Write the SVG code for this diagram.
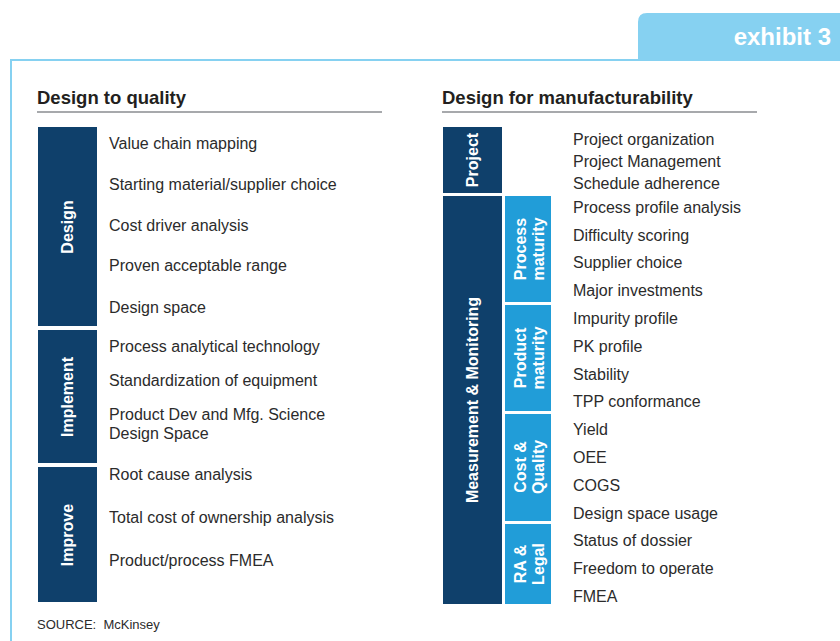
<svg xmlns="http://www.w3.org/2000/svg" width="840" height="641" viewBox="0 0 840 641">
  <style>
    .bg { fill: #ffffff; }
    .frame { fill: none; stroke: #86D1F1; stroke-width: 2; }
    .tab { fill: #86D1F1; }
    .tabtext { font-family: "Liberation Sans", Arial, sans-serif; font-weight: bold; font-size: 24px; fill: #ffffff; }
    .title { font-family: "Liberation Sans", Arial, sans-serif; font-weight: bold; font-size: 18.5px; fill: #231F20; }
    .rule { stroke: #A7A9AC; stroke-width: 2; }
    .dark { fill: #0F406B; }
    .light { fill: #219DD8; }
    .vlabel { font-family: "Liberation Sans", Arial, sans-serif; font-weight: bold; font-size: 16px; fill: #ffffff; text-anchor: middle; }
    .item { font-family: "Liberation Sans", Arial, sans-serif; font-size: 16px; fill: #2B2B2B; }
    .source { font-family: "Liberation Sans", Arial, sans-serif; font-size: 13px; fill: #2B2B2B; }
  </style>

  <rect class="bg" x="0" y="0" width="840" height="641"/>

  <!-- header tab and frame -->
  <path class="tab" d="M638 60 V22 Q638 13 647 13 H840 V60 Z"/>
  <text class="tabtext" x="831" y="45" text-anchor="end">exhibit 3</text>
  <path class="frame" d="M840 60 H11 V641"/>

  <!-- Left panel: Design to quality -->
  <g id="panel-quality">
    <text class="title" x="37" y="104">Design to quality</text>
    <line class="rule" x1="37" y1="112" x2="382" y2="112"/>

    <g id="q-design">
      <rect class="dark" x="38" y="127" width="59" height="199"/>
      <text class="vlabel" transform="translate(73 227) rotate(-90)">Design</text>
    </g>
    <g id="q-implement">
      <rect class="dark" x="38" y="330" width="59" height="133"/>
      <text class="vlabel" transform="translate(73 397) rotate(-90)">Implement</text>
    </g>
    <g id="q-improve">
      <rect class="dark" x="38" y="467" width="59" height="135"/>
      <text class="vlabel" transform="translate(73 535) rotate(-90)">Improve</text>
    </g>

    <g id="q-items">
      <text class="item" x="109" y="149">Value chain mapping</text>
      <text class="item" x="109" y="190">Starting material/supplier choice</text>
      <text class="item" x="109" y="231">Cost driver analysis</text>
      <text class="item" x="109" y="271">Proven acceptable range</text>
      <text class="item" x="109" y="313">Design space</text>
      <text class="item" x="109" y="352">Process analytical technology</text>
      <text class="item" x="109" y="386">Standardization of equipment</text>
      <text class="item" x="109" y="420">Product Dev and Mfg. Science</text>
      <text class="item" x="109" y="439">Design Space</text>
      <text class="item" x="109" y="480">Root cause analysis</text>
      <text class="item" x="109" y="523">Total cost of ownership analysis</text>
      <text class="item" x="109" y="566">Product/process FMEA</text>
    </g>
  </g>

  <!-- Right panel: Design for manufacturability -->
  <g id="panel-manufacturability">
    <text class="title" x="442" y="104">Design for manufacturability</text>
    <line class="rule" x1="442" y1="112" x2="757" y2="112"/>

    <g id="m-project">
      <rect class="dark" x="443" y="127" width="59" height="66"/>
      <text class="vlabel" transform="translate(478 160) rotate(-90)">Project</text>
    </g>
    <g id="m-measurement">
      <rect class="dark" x="443" y="196" width="59" height="408"/>
      <text class="vlabel" transform="translate(478 400) rotate(-90)">Measurement &amp; Monitoring</text>
    </g>
    <g id="m-process">
      <rect class="light" x="505" y="196" width="46" height="106"/>
      <text class="vlabel" transform="translate(526 249) rotate(-90)">Process</text>
      <text class="vlabel" transform="translate(544 249) rotate(-90)">maturity</text>
    </g>
    <g id="m-product">
      <rect class="light" x="505" y="305" width="46" height="106"/>
      <text class="vlabel" transform="translate(526 358) rotate(-90)">Product</text>
      <text class="vlabel" transform="translate(544 358) rotate(-90)">maturity</text>
    </g>
    <g id="m-cost">
      <rect class="light" x="505" y="414" width="46" height="107"/>
      <text class="vlabel" transform="translate(526 467) rotate(-90)">Cost &amp;</text>
      <text class="vlabel" transform="translate(544 467) rotate(-90)">Quality</text>
    </g>
    <g id="m-ra">
      <rect class="light" x="505" y="524" width="46" height="80"/>
      <text class="vlabel" transform="translate(526 564) rotate(-90)">RA &amp;</text>
      <text class="vlabel" transform="translate(544 564) rotate(-90)">Legal</text>
    </g>

    <g id="m-items">
      <text class="item" x="573" y="145">Project organization</text>
      <text class="item" x="573" y="167">Project Management</text>
      <text class="item" x="573" y="189">Schedule adherence</text>
      <text class="item" x="573" y="213">Process profile analysis</text>
      <text class="item" x="573" y="241">Difficulty scoring</text>
      <text class="item" x="573" y="268">Supplier choice</text>
      <text class="item" x="573" y="296">Major investments</text>
      <text class="item" x="573" y="324">Impurity profile</text>
      <text class="item" x="573" y="352">PK profile</text>
      <text class="item" x="573" y="380">Stability</text>
      <text class="item" x="573" y="407">TPP conformance</text>
      <text class="item" x="573" y="435">Yield</text>
      <text class="item" x="573" y="463">OEE</text>
      <text class="item" x="573" y="491">COGS</text>
      <text class="item" x="573" y="519">Design space usage</text>
      <text class="item" x="573" y="546">Status of dossier</text>
      <text class="item" x="573" y="574">Freedom to operate</text>
      <text class="item" x="573" y="602">FMEA</text>
    </g>
  </g>

  <text class="source" x="37" y="629" xml:space="preserve">SOURCE:  McKinsey</text>
</svg>
